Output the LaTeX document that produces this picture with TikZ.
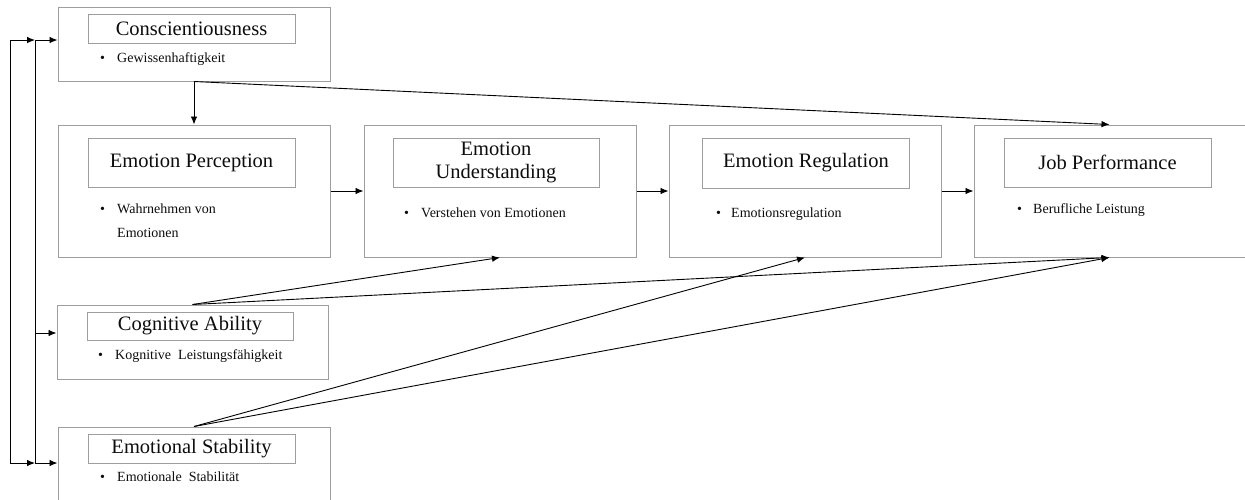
\documentclass[tikz,border=0pt]{standalone}
\usepackage{fontspec}
\setmainfont{Liberation Serif}
\usetikzlibrary{arrows.meta}
\definecolor{boxgray}{gray}{0.62}
\definecolor{txt}{gray}{0.05}
\tikzset{
 outer/.style={draw=boxgray, line width=1pt, minimum width=272pt, inner sep=0pt},
 title/.style={draw=boxgray, line width=1pt, minimum width=207pt, inner sep=0pt, align=center, text=txt, font=\fontsize{20.5}{23}\selectfont},
 bul/.style={anchor=base west, inner sep=0pt, text=txt, font=\fontsize{14}{24}\selectfont},
 line/.style={line width=0.9pt},
 conn/.style={line width=0.9pt, -{Latex[length=8pt,width=6.5pt]}},
 conn2/.style={line width=0.9pt, {Latex[length=8pt,width=6.5pt]}-{Latex[length=8pt,width=6.5pt]}},
}
\begin{document}
\begin{tikzpicture}[x=1pt,y=-1pt]
\useasboundingbox (0,0) rectangle (1245,499);
% outer boxes
\node[outer, minimum height=74pt] (C) at (194,44) {};
\node[outer, minimum height=132pt] (EP) at (194,191) {};
\node[outer, minimum height=132pt] (EU) at (500,191) {};
\node[outer, minimum height=132pt] (ER) at (805,191) {};
\node[outer, minimum height=132pt, minimum width=271pt] (JP) at (1109.5,191) {};
\node[outer, minimum height=74pt, minimum width=271pt] (CA) at (192.5,342) {};
\node[outer, minimum height=74pt] (ES) at (194,464) {};
% titles
\node[title, minimum height=29pt] (Ct) at (191.5,28.5) {Conscientiousness};
\node[title, minimum height=49pt] (EPt) at (191.5,162.5) {Emotion Perception};
\node[title, minimum height=49pt, minimum width=206pt] (EUt) at (496,162.5) {Emotion\\Understanding};
\node[title, minimum height=50pt] (ERt) at (806,163) {Emotion Regulation};
\node[title, minimum height=49pt] (JPt) at (1107.5,162.5) {Job Performance};
\node[title, minimum height=28pt, minimum width=206pt] (CAt) at (190,326) {Cognitive Ability};
\node[title, minimum height=29pt] (ESt) at (191.5,448.5) {Emotional Stability};
% bullets
\node[bul] (Cbu) at (100,62) {•};
\node[bul] (Cbt) at (117,62) {Gewissenhaftigkeit};
\node[bul] (EPbu) at (100,213) {•};
\node[bul] (EPbt) at (117,213) {Wahrnehmen von};
\node[bul] (EPbt2) at (117,237) {Emotionen};
\node[bul] (EUbu) at (404,217) {•};
\node[bul] (EUbt) at (421,217) {Verstehen von Emotionen};
\node[bul] (ERbu) at (716,217) {•};
\node[bul] (ERbt) at (731,217) {Emotionsregulation};
\node[bul] (JPbu) at (1017,213) {•};
\node[bul] (JPbt) at (1033,213) {Berufliche Leistung};
\node[bul] (CAbu) at (98,359) {•};
\node[bul] (CAbt) at (115,359) {Kognitive\ \ Leistungsfähigkeit};
\node[bul] (ESbu) at (100,481) {•};
\node[bul] (ESbt) at (117,481) {Emotionale\ \ Stabilität};
% left loop
\coordinate (a1) at (10,40);
\coordinate (a2) at (10,463);
\coordinate (b1) at (35,40);
\coordinate (b2) at (35,333);
\coordinate (b3) at (35,463);
\draw[conn2] (b1) -- (a1) -- (a2) -- (b3);
\draw[line] (b1) -- (b3);
\draw[conn] (b1) -- (C.west |- b1);
\draw[conn] (b2) -- (CA.west |- b2);
\draw[conn] (b3) -- (ES.west |- b3);
% main chain
\draw[conn] (C.south) -- (EP.north);
\draw[conn] (EP.east) -- (EU.west);
\draw[conn] (EU.east) -- (ER.west);
\draw[conn] (ER.east) -- (JP.west);
\draw[conn] (C.south) -- (JP.north);
% from cognitive ability and emotional stability
\draw[conn] (CA.north) -- (EU.south);
\draw[conn] (CA.north) -- (JP.south);
\draw[conn] (ES.north) -- (ER.south);
\draw[conn] (ES.north) -- (JP.south);
\end{tikzpicture}
\end{document}
